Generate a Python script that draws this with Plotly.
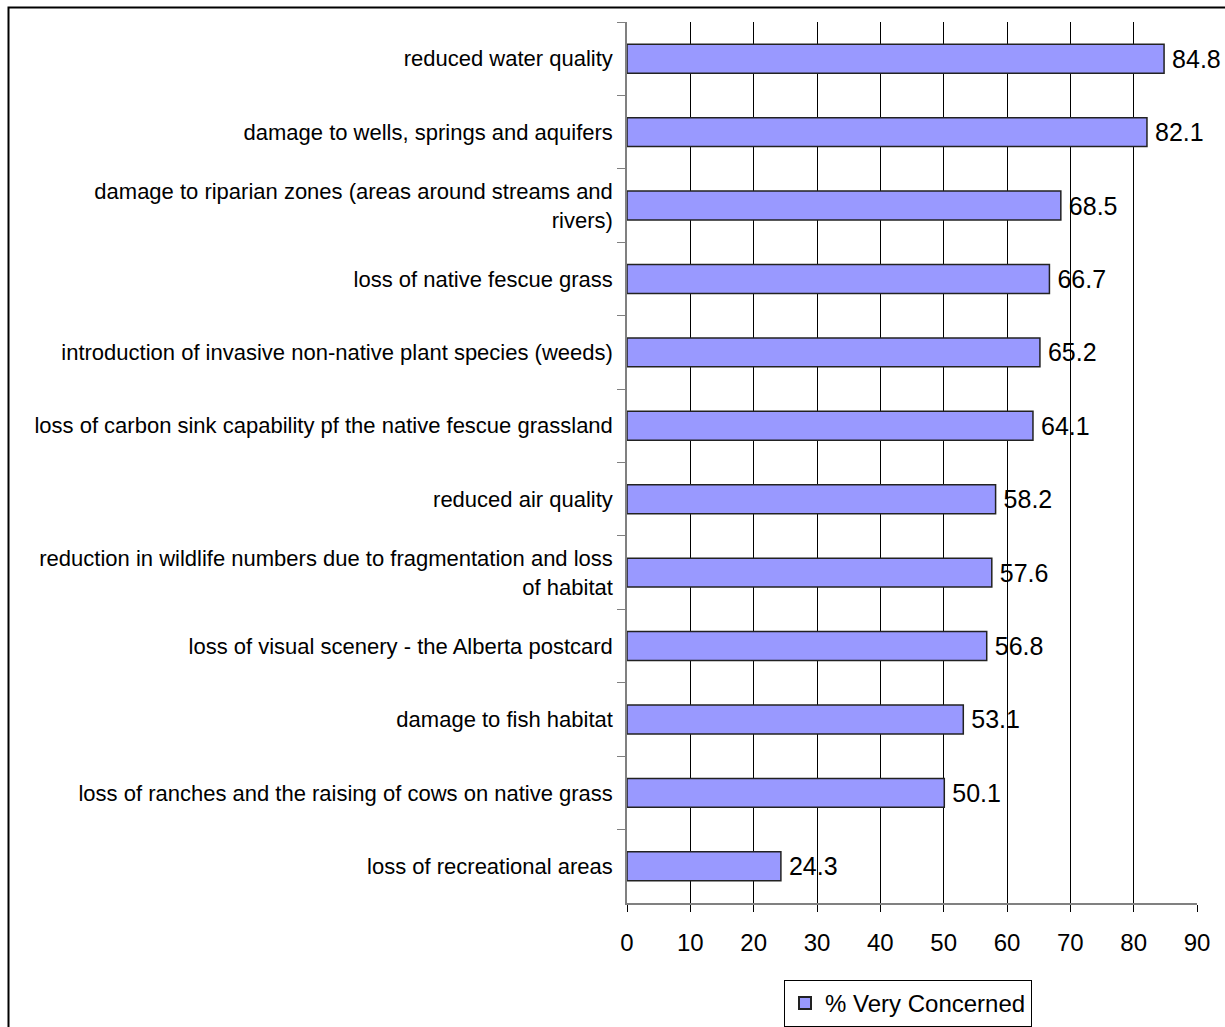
import plotly.graph_objects as go

categories = [
    "reduced water quality",
    "damage to wells, springs and aquifers",
    "damage to riparian zones (areas around streams and<br>rivers)",
    "loss of native fescue grass",
    "introduction of invasive non-native plant species (weeds)",
    "loss of carbon sink capability pf the native fescue grassland",
    "reduced air quality",
    "reduction in wildlife numbers due to fragmentation and loss<br>of habitat",
    "loss of visual scenery - the Alberta postcard",
    "damage to fish habitat",
    "loss of ranches and the raising of cows on native grass",
    "loss of recreational areas",
]
values = [84.8, 82.1, 68.5, 66.7, 65.2, 64.1, 58.2, 57.6, 56.8, 53.1, 50.1, 24.3]
series_name = "% Very Concerned"
x_ticks = [0, 10, 20, 30, 40, 50, 60, 70, 80, 90]

FONT = "Liberation Sans, Arial, sans-serif"

W, H = 1225, 1027
L, R, T, B = 627, 1197, 22, 903

fig = go.Figure()
fig.add_trace(go.Bar(
    y=categories, x=values, orientation="h", name=series_name,
    marker=dict(color="#9999FF", line=dict(color="#222222", width=1.5)),
    text=["\u2009" + f"{v:.1f}" for v in values], textposition="outside",
    textfont=dict(family=FONT, size=25, color="black"),
    cliponaxis=False, showlegend=True,
))

def px_x(px):
    return (px - L) / (R - L)

def px_y(py):
    return (B - py) / (B - T)

fig.update_layout(
    width=W, height=H,
    margin=dict(l=L, r=W - R, t=T, b=H - B, pad=0, autoexpand=False),
    paper_bgcolor="white", plot_bgcolor="white",
    bargap=0.605,
    font=dict(family=FONT, color="black"),
    showlegend=True,
    legend=dict(
        x=px_x(784), y=px_y(980), xanchor="left", yanchor="top",
        bordercolor="black", borderwidth=1, bgcolor="white",
        font=dict(family=FONT, size=24, color="black"),
        itemsizing="constant", itemwidth=30,
    ),
    xaxis=dict(
        range=[0, 90], tickvals=x_ticks, ticktext=[str(t) for t in x_ticks],
        showgrid=True, gridcolor="black", gridwidth=1,
        zeroline=False, showline=True, linecolor="#808080", linewidth=1.5,
        ticks="outside", ticklen=7, tickcolor="black", tickwidth=1,
        tickfont=dict(family=FONT, size=24, color="black"),
        ticklabelstandoff=10,
    ),
    yaxis=dict(
        categoryorder="array", categoryarray=categories, autorange="reversed",
        showgrid=False, zeroline=False, showline=True, linecolor="#808080", linewidth=1.5,
        ticks="outside", ticklen=8, tickcolor="#808080", tickwidth=1,
        tickson="boundaries",
        tickfont=dict(family=FONT, size=22, color="black"),
        ticklabelstandoff=8,
    ),
    shapes=[dict(
        type="rect", xref="paper", yref="paper",
        x0=px_x(8.5), y0=px_y(7.5), x1=px_x(1300), y1=px_y(1100),
        line=dict(color="black", width=2), fillcolor="rgba(0,0,0,0)", layer="above",
    )],
)

fig.write_html("out.html")
